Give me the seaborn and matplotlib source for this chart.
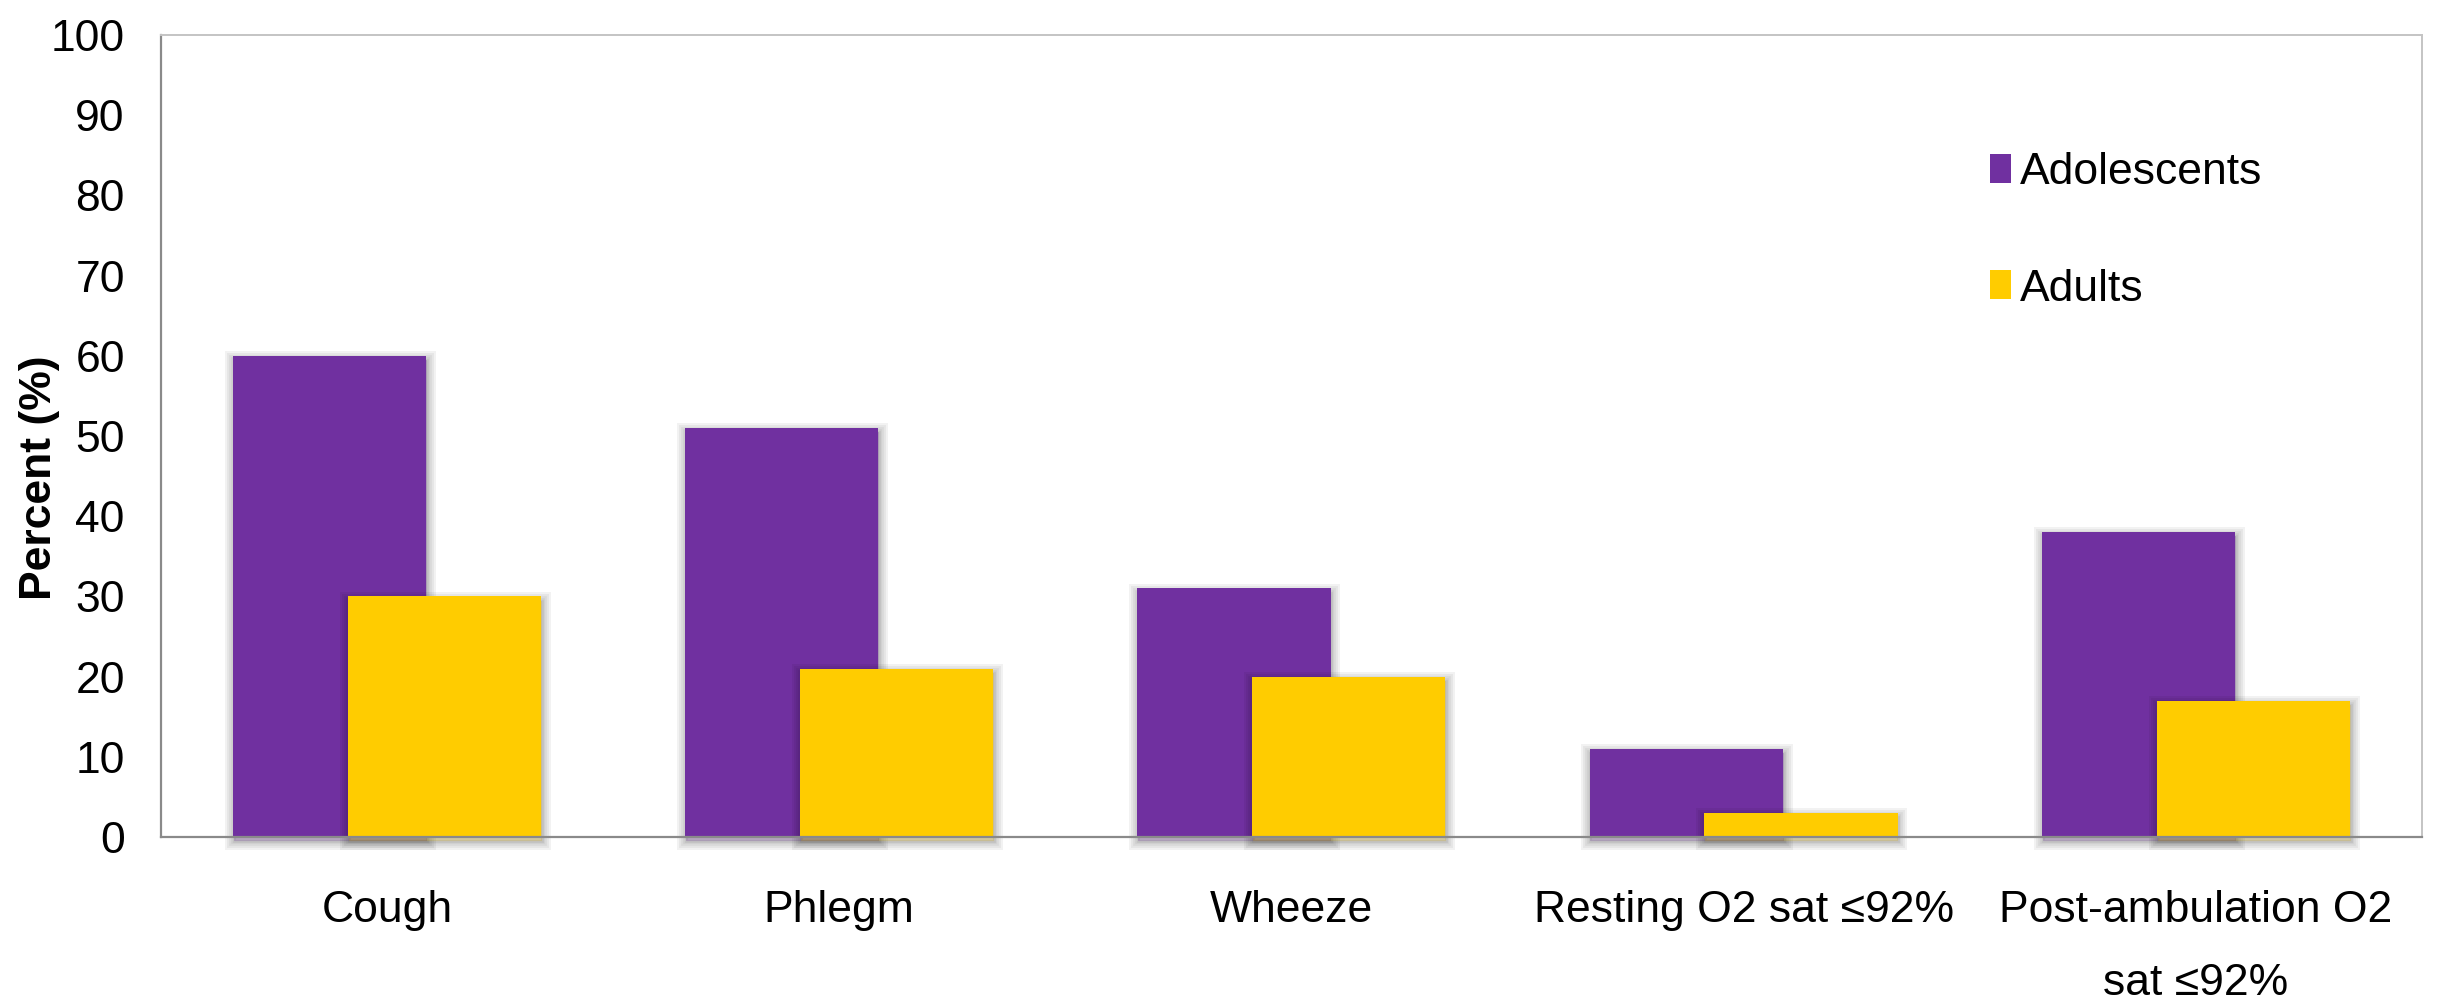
import numpy as np
import matplotlib
matplotlib.use("Agg")
import matplotlib.pyplot as plt
import matplotlib.patheffects as pe
from matplotlib.patches import Patch
from matplotlib import font_manager
import seaborn as sns

# Symptom / oxygen-saturation categories and the percentage in each group
categories = ["Cough", "Phlegm", "Wheeze", "Resting O2 sat ≤92%",
              "Post-ambulation O2\nsat ≤92%"]
adolescents = [60, 51, 31, 11, 38]
adults = [30, 21, 20, 3, 17]
series_names = ["Adolescents", "Adults"]
series_colors = ["#7030A0", "#FFCC00"]
y_ticks = list(range(0, 101, 10))

sns.set_style("white")
installed = {f.name for f in font_manager.fontManager.ttflist}
narrow = "Liberation Sans Narrow" in installed
base_family = "Liberation Sans Narrow" if narrow else "Liberation Sans"
plt.rcParams["font.family"] = [base_family, "DejaVu Sans"]
plt.rcParams["text.color"] = "black"
fs = 38 if narrow else 32
fs_px = fs * 100 / 72

fig = plt.figure(figsize=(24.38, 10.06), dpi=100)
ax = fig.add_axes([0.0660, 0.1680, 0.9274, 0.7972])

idx = np.arange(len(categories))
offset = 0.127
bar_w = 0.427

# back series first, front series overlapping to the right
for values, shift, color in [(adolescents, -offset, series_colors[0]),
                             (adults, offset, series_colors[1])]:
    sns.barplot(x=idx + shift, y=values, native_scale=True, orient="x",
                width=bar_w, color=color, saturation=1, errorbar=None,
                linewidth=0, ax=ax)

# soft drop shadow around each bar, shifted slightly downwards
shadow = [pe.Stroke(linewidth=w, foreground="black", alpha=0.05, offset=(0.6, -3.0))
          for w in (13, 10, 7, 4, 2)] + [pe.Normal()]
for patch in ax.patches:
    patch.set_path_effects(shadow)
    patch.set_clip_on(False)

ax.set_xlim(-0.5, len(categories) - 0.5)
ax.set_ylim(0, 100)
ax.set_xticks(idx, categories)
ax.set_yticks(y_ticks, [str(t) for t in y_ticks])
ax.set_xlabel("")
ax.tick_params(axis="both", length=0, labelsize=fs, colors="black")
ax.tick_params(axis="y", pad=26)
ax.tick_params(axis="x", pad=38)
for lbl in ax.get_xticklabels():
    lbl.set_linespacing(2.0)

for side in ("left", "bottom"):
    ax.spines[side].set_color("#8a8a8a")
    ax.spines[side].set_linewidth(1.6)
for side in ("top", "right"):
    ax.spines[side].set_color("#c4c4c4")
    ax.spines[side].set_linewidth(1.4)
ax.grid(False)

ax.set_ylabel("Percent (%)", fontsize=32, fontweight="bold", color="black",
              family=["Liberation Sans", "DejaVu Sans"])
ax.yaxis.set_label_coords(-0.0447, 0.4476)

handles = [Patch(facecolor=c, edgecolor="none", label=n)
           for n, c in zip(series_names, series_colors)]
ax.legend(handles=handles, loc="upper left",
          bbox_to_anchor=(1990 / 2438, 1 - 152 / 1006),
          bbox_transform=fig.transFigure, frameon=False, fontsize=fs,
          handlelength=21 / fs_px, handleheight=28 / fs_px,
          handletextpad=9 / fs_px, labelspacing=1.7,
          borderpad=0, borderaxespad=0)

fig.savefig("out.png", dpi=100, facecolor="white")
